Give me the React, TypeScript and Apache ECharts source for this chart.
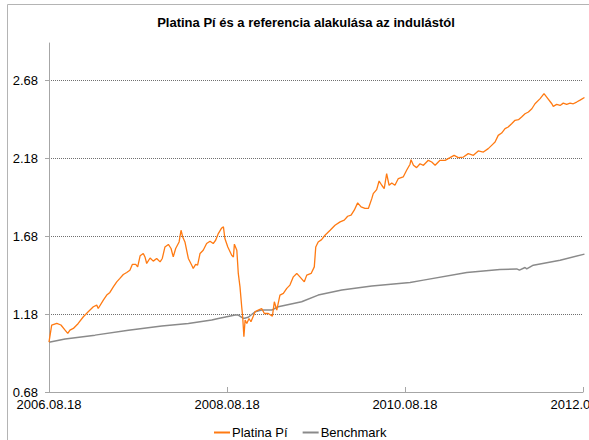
import React, { useEffect, useRef } from "react";
import * as echarts from "echarts";

const TITLE = "Platina Pí és a referencia alakulása az indulástól";
const SERIES_NAMES = ["Platina Pí", "Benchmark"];
const X_TICKS = ["2006-08-18", "2008-08-18", "2010-08-18", "2012-08-18"];
const Y_MIN = 0.68;
const Y_MAX = 2.92;
const Y_STEP = 0.5;

const platinaDates = [
  "2006-08-18", "2006-08-29", "2006-09-19", "2006-10-06", "2006-10-23", "2006-11-03", "2006-11-12", "2006-11-26",
  "2006-12-16", "2007-01-06", "2007-01-26", "2007-02-16", "2007-03-02", "2007-03-08", "2007-03-29", "2007-04-12",
  "2007-04-25", "2007-05-09", "2007-05-23", "2007-06-05", "2007-06-19", "2007-07-03", "2007-07-16", "2007-07-26",
  "2007-08-09", "2007-08-17", "2007-08-27", "2007-09-09", "2007-09-16", "2007-09-23", "2007-10-07", "2007-10-20",
  "2007-11-03", "2007-11-17", "2007-11-26", "2007-12-07", "2007-12-21", "2008-01-01", "2008-01-10", "2008-01-20",
  "2008-02-03", "2008-02-11", "2008-02-18", "2008-02-27", "2008-03-12", "2008-03-26", "2008-04-01", "2008-04-11",
  "2008-04-19", "2008-04-29", "2008-05-12", "2008-05-26", "2008-06-09", "2008-06-22", "2008-07-02", "2008-07-13",
  "2008-07-27", "2008-08-03", "2008-08-09", "2008-08-21", "2008-09-06", "2008-09-13", "2008-09-17", "2008-09-27",
  "2008-10-03", "2008-10-10", "2008-10-17", "2008-10-21", "2008-10-26", "2008-10-31", "2008-11-07", "2008-11-16",
  "2008-11-24", "2008-12-11", "2008-12-24", "2009-01-07", "2009-01-18", "2009-02-03", "2009-02-20", "2009-02-28",
  "2009-03-10", "2009-03-23", "2009-04-06", "2009-04-20", "2009-05-03", "2009-05-17", "2009-05-31", "2009-06-13",
  "2009-07-01", "2009-07-11", "2009-07-29", "2009-08-11", "2009-08-17", "2009-08-27", "2009-09-10", "2009-09-24",
  "2009-10-15", "2009-11-04", "2009-11-25", "2009-12-12", "2009-12-26", "2010-01-09", "2010-01-22", "2010-02-05",
  "2010-02-19", "2010-03-07", "2010-03-21", "2010-04-04", "2010-04-10", "2010-04-24", "2010-05-04", "2010-05-15",
  "2010-05-25", "2010-06-04", "2010-06-14", "2010-06-25", "2010-07-08", "2010-07-22", "2010-08-11", "2010-08-25",
  "2010-09-08", "2010-09-12", "2010-09-22", "2010-10-05", "2010-10-19", "2010-11-02", "2010-11-22", "2010-12-06",
  "2010-12-20", "2011-01-09", "2011-01-30", "2011-02-19", "2011-03-08", "2011-03-25", "2011-04-15", "2011-05-05",
  "2011-05-26", "2011-06-15", "2011-07-06", "2011-07-26", "2011-08-09", "2011-08-23", "2011-09-05", "2011-09-19",
  "2011-10-03", "2011-10-16", "2011-10-30", "2011-11-13", "2011-11-27", "2011-12-10", "2011-12-24", "2012-01-07",
  "2012-01-21", "2012-02-03", "2012-02-24", "2012-03-11", "2012-03-22", "2012-04-12", "2012-04-18", "2012-05-02",
  "2012-05-16", "2012-05-29", "2012-06-12", "2012-06-26", "2012-07-09", "2012-07-23", "2012-08-06", "2012-08-24",
];
const platinaValues = [
  1.0, 1.109, 1.12, 1.11, 1.077, 1.056, 1.077, 1.088,
  1.12, 1.163, 1.195, 1.227, 1.238, 1.216, 1.27, 1.302,
  1.319, 1.355, 1.387, 1.409, 1.434, 1.447, 1.462, 1.499,
  1.499, 1.483, 1.554, 1.569, 1.547, 1.505, 1.54, 1.52,
  1.537, 1.515, 1.537, 1.611, 1.627, 1.601, 1.547, 1.601,
  1.643, 1.718, 1.675, 1.643, 1.537, 1.494, 1.473, 1.499,
  1.494, 1.569, 1.59, 1.633, 1.648, 1.633, 1.654, 1.697,
  1.733, 1.74, 1.665, 1.611, 1.558, 1.547, 1.629, 1.59,
  1.441, 1.355, 1.227, 1.163, 1.035, 1.142, 1.12, 1.152,
  1.131, 1.195, 1.206, 1.216, 1.184, 1.184, 1.167, 1.259,
  1.206, 1.302, 1.313, 1.345, 1.366, 1.419, 1.441, 1.419,
  1.387, 1.43, 1.441, 1.483, 1.611, 1.643, 1.658, 1.686,
  1.718, 1.75, 1.772, 1.783, 1.808, 1.815, 1.847, 1.894,
  1.868, 1.858, 1.858, 1.921, 1.953, 1.979, 2.034, 2.007,
  1.985, 2.081, 2.007, 2.022, 2.007, 2.05, 2.06, 2.103,
  2.142, 2.171, 2.135, 2.12, 2.145, 2.135, 2.167, 2.156,
  2.135, 2.167, 2.167, 2.184, 2.199, 2.184, 2.188, 2.21,
  2.199, 2.227, 2.22, 2.242, 2.263, 2.284, 2.327, 2.342,
  2.37, 2.381, 2.402, 2.424, 2.428, 2.445, 2.466, 2.477,
  2.498, 2.53, 2.563, 2.595, 2.573, 2.53, 2.513, 2.526,
  2.519, 2.534, 2.526, 2.534, 2.53, 2.541, 2.553, 2.57,
];

const benchDates = [
  "2006-08-18", "2006-10-23", "2007-02-23", "2007-07-10", "2007-11-24", "2008-03-12", "2008-06-16", "2008-07-13",
  "2008-09-20", "2008-10-03", "2008-10-24", "2008-11-13", "2008-12-11", "2009-01-07", "2009-02-17", "2009-03-16",
  "2009-06-20", "2009-08-27", "2009-12-02", "2010-04-04", "2010-09-08", "2010-11-02", "2011-04-29", "2011-09-12",
  "2011-11-20", "2011-12-01", "2011-12-24", "2011-12-31", "2012-01-27", "2012-05-16", "2012-08-24",
];
const benchValues = [
  1.0, 1.02, 1.045, 1.077, 1.103, 1.12, 1.142, 1.152,
  1.174, 1.174, 1.152, 1.16, 1.195, 1.206, 1.206, 1.227,
  1.259, 1.302, 1.334, 1.361, 1.383, 1.398, 1.447, 1.466,
  1.47, 1.462, 1.479, 1.47, 1.494, 1.526, 1.565,
];

const FONT = "'Liberation Sans', Arial, sans-serif";

function fmtDate(v: number) {
  const d = new Date(v);
  const p = (n: number) => (n < 10 ? "0" + n : "" + n);
  return d.getUTCFullYear() + "." + p(d.getUTCMonth() + 1) + "." + p(d.getUTCDate());
}
const toTime = (s: string) => Date.parse(s + "T00:00:00Z");

export default function App() {
  const ref = useRef<HTMLDivElement>(null);
  useEffect(() => {
    document.body.style.margin = "0";
    if (!ref.current) return;
    const chart = echarts.init(ref.current, null, { renderer: "svg" });
    const tickTimes = X_TICKS.map(toTime);
    chart.setOption({
      animation: false,
      backgroundColor: "#ffffff",
      graphic: [
        {
          type: "rect",
          shape: { x: 7.5, y: 4.5, width: 700, height: 600 },
          style: { fill: "none", stroke: "#b4b4b4", lineWidth: 1 },
          silent: true,
          z: 0,
        },
      ],
      title: {
        text: TITLE,
        left: 301,
        textAlign: "center",
        top: 11,
        textStyle: { fontFamily: FONT, fontSize: 13, fontWeight: "bold", color: "#000" },
      },
      legend: {
        bottom: 1,
        left: 214,
        padding: 0,
        icon: "rect",
        itemWidth: 16,
        itemHeight: 2,
        itemGap: 15,
        textStyle: { fontFamily: FONT, fontSize: 13, color: "#000", padding: [0, 0, 0, -3] },
        data: SERIES_NAMES,
      },
      grid: { left: 49, right: 6, top: 43, bottom: 48, containLabel: false, outerBoundsMode: "none" },
      xAxis: {
        type: "value",
        min: tickTimes[0],
        max: tickTimes[tickTimes.length - 1],
        axisLine: { show: true, lineStyle: { color: "#a6a6a6", width: 1 } },
        axisTick: { show: true, inside: true, length: 5, customValues: tickTimes, lineStyle: { color: "#a6a6a6" } },
        axisLabel: {
          customValues: tickTimes,
          formatter: (v: number) => fmtDate(v),
          fontFamily: FONT,
          fontSize: 13,
          color: "#000",
          margin: 6,
          showMinLabel: true,
          showMaxLabel: true,
          hideOverlap: false,
        },
        splitLine: { show: false },
      },
      yAxis: {
        type: "value",
        min: Y_MIN,
        max: Y_MAX,
        interval: Y_STEP,
        axisLine: { show: true, lineStyle: { color: "#a6a6a6", width: 1 } },
        axisTick: { show: true, length: 4, lineStyle: { color: "#a6a6a6" } },
        axisLabel: {
          fontFamily: FONT,
          fontSize: 13,
          color: "#000",
          margin: 11,
          showMaxLabel: false,
          formatter: (v: number) => (Math.abs(v - Y_MAX) < 1e-6 ? "" : v.toFixed(2)),
        },
        splitLine: {
          show: true,
          showMinLine: false,
          showMaxLine: false,
          lineStyle: { color: "#707070", type: [1, 1], width: 1 },
        },
      },
      series: [
        {
          name: SERIES_NAMES[0],
          type: "line",
          data: platinaDates.map((d, i) => [toTime(d), platinaValues[i]]),
          showSymbol: false,
          symbol: "none",
          clip: false,
          lineStyle: { color: "#ff7a12", width: 1.3 },
          itemStyle: { color: "#ff7a12" },
          z: 3,
        },
        {
          name: SERIES_NAMES[1],
          type: "line",
          data: benchDates.map((d, i) => [toTime(d), benchValues[i]]),
          showSymbol: false,
          symbol: "none",
          clip: false,
          lineStyle: { color: "#8a8a8a", width: 1.5 },
          itemStyle: { color: "#8a8a8a" },
          z: 2,
        },
      ],
    });
    return () => chart.dispose();
  }, []);
  return <div ref={ref} style={{ width: 589, height: 440 }} />;
}
